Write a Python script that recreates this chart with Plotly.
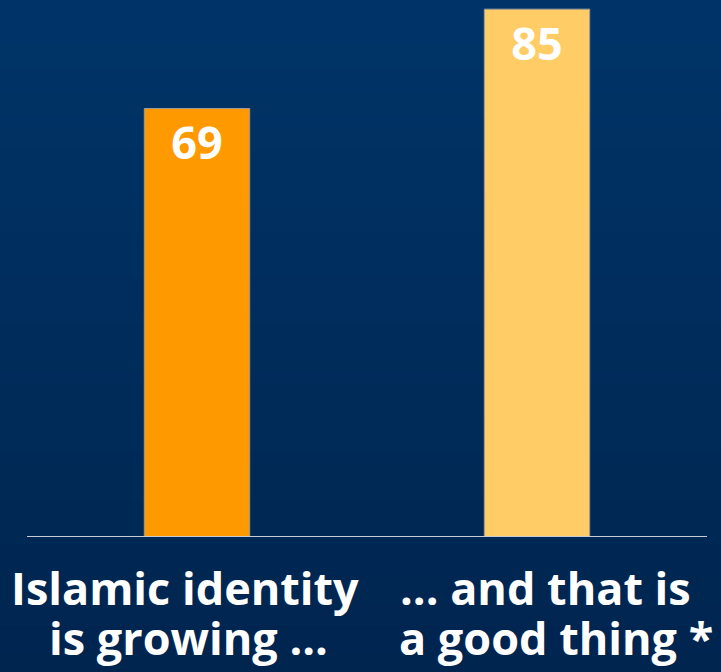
import plotly.graph_objects as go

categories = ["Islamic identity<br>is growing ...", "... and that is<br>a good thing *"]
values = [69, 85]
bar_colors = ["#FF9900", "#FFCC66"]

W, H = 721, 672
FONT = "Open Sans"
fig = go.Figure()

fig.add_trace(go.Bar(
    x=[0, 1], y=values,
    marker=dict(color=bar_colors, line=dict(color="#9a9a9a", width=1)),
    width=0.31,
    text=[str(v) for v in values],
    textposition="inside", insidetextanchor="end",
    textfont=dict(family=FONT, size=45, color="white", weight=700),
    cliponaxis=False,
))

# gradient background via stacked shapes
top = (0, 52, 104)
bot = (0, 36, 78)
n = 60
shapes = []
for i in range(n):
    t = i / (n - 1)
    c = tuple(round(top[k] + (bot[k] - top[k]) * t) for k in range(3))
    shapes.append(dict(type="rect", xref="paper", yref="paper",
                       x0=-0.1, x1=1.1,
                       y0=1 - (i + 1) / n * 1.3, y1=1 - i / n * 1.3 + 0.002,
                       fillcolor="rgb(%d,%d,%d)" % c, line=dict(width=0), layer="below"))

# per-line label placement (pixel shifts relative to category centre / baseline)
xshifts = [[-12, -9], [8, 19]]
yshifts = [-50, -100]
annotations = []
for i, c in enumerate(categories):
    for j, line in enumerate(c.split("<br>")):
        annotations.append(dict(x=i, y=0, xref="x", yref="y", text=line, showarrow=False,
                                yanchor="middle", yshift=yshifts[j], xshift=xshifts[i][j],
                                font=dict(family=FONT, size=45, color="white", weight=700)))

fig.update_layout(
    width=W, height=H,
    margin=dict(l=27, r=14, t=0, b=135),
    paper_bgcolor="#002a5a", plot_bgcolor="rgba(0,0,0,0)",
    shapes=shapes, annotations=annotations,
    showlegend=False,
    xaxis=dict(range=[-0.5, 1.5], showticklabels=False, showgrid=False, zeroline=False,
               showline=False, fixedrange=True),
    yaxis=dict(range=[0, 86.47], visible=False, showgrid=False, zeroline=False),
)
fig.add_shape(type="line", xref="paper", yref="y", x0=0, x1=1, y0=0, y1=0,
              line=dict(color="#c8ccd4", width=2), layer="above")

fig.write_html("out.html", config={"displayModeBar": False},
               post_script="document.body.style.margin='0';document.body.style.overflow='hidden';")
